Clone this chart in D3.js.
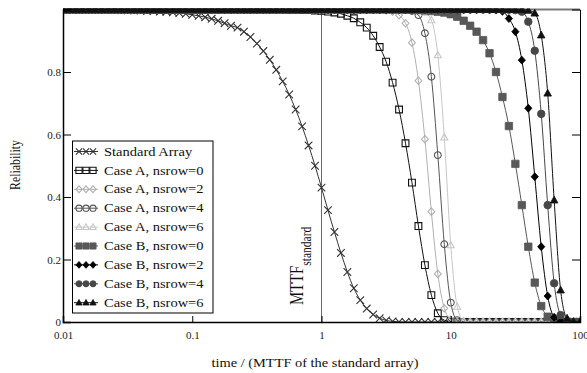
<!DOCTYPE html>
<html><head><meta charset="utf-8">
<script src="https://cdn.jsdelivr.net/npm/d3@7"></script>
<style>body{margin:0;background:#fff}svg{display:block}</style>
</head><body>
<svg id="c" width="587" height="373"></svg>
<script>
// ---------------- DATA ----------------
const time = [
0.01,0.01122,0.01259,0.01413,0.01585,0.01778,0.01995,0.02239,0.02512,0.02818,
0.03162,0.03548,0.03981,0.04467,0.05012,0.05623,0.0631,0.07079,0.07943,0.08913,
0.1,0.1122,0.1259,0.1413,0.1585,0.1778,0.1995,0.2239,0.2512,0.2818,
0.3162,0.3548,0.3981,0.4467,0.5012,0.5623,0.631,0.7079,0.7943,0.8913,
1,1.122,1.259,1.413,1.585,1.778,1.995,2.239,2.512,2.818,
3.162,3.548,3.981,4.467,5.012,5.623,6.31,7.079,7.943,8.913,
10,11.22,12.59,14.13,15.85,17.78,19.95,22.39,25.12,28.18,
31.62,35.48,39.81,44.67,50.12,56.23,63.1,70.79,79.43,89.13,
100];

const seriesNames = ["Standard Array","Case A, nsrow=0","Case A, nsrow=2","Case A, nsrow=4","Case A, nsrow=6",
                     "Case B, nsrow=0","Case B, nsrow=2","Case B, nsrow=4","Case B, nsrow=6"];

const standardArray = [
0.9997,0.9996,0.9995,0.9994,0.9993,0.9991,0.9989,0.9987,0.9984,0.9980,
0.9976,0.9971,0.9965,0.9957,0.9948,0.9937,0.9923,0.9907,0.9887,0.9863,
0.9833,0.9797,0.9754,0.9702,0.9638,0.9562,0.9480,0.942,0.929,0.912,
0.891,0.867,0.839,0.807,0.770,0.728,0.680,0.626,0.565,0.500,
0.430,0.358,0.288,0.221,0.160,0.108,0.070,0.043,0.024,0.012,
0.005,0.002,0.0005,0,0,0,0,0,0,0,
0,0,0,0,0,0,0,0,0,0,
0,0,0,0,0,0,0,0,0,0,
0];
const caseA0 = [
1,1,1,1,1,1,1,1,1,1,
1,1,1,1,1,1,1,1,1,1,
1,1,1,1,1,1,1,1,1,1,
1,1,0.9998,0.9997,0.9995,0.9993,0.999,0.9985,0.998,0.997,
0.9955,0.9935,0.9906,0.9864,0.980,0.972,0.959,0.942,0.916,0.880,
0.833,0.766,0.680,0.572,0.446,0.307,0.182,0.086,0.028,0.006,
0.001,0,0,0,0,0,0,0,0,0,
0,0,0,0,0,0,0,0,0,0,
0];
const caseA2 = [
1,1,1,1,1,1,1,1,1,1,
1,1,1,1,1,1,1,1,1,1,
1,1,1,1,1,1,1,1,1,1,
1,1,1,1,1,1,1,1,1,1,
1,1,1,1,1,1,1,1,1,0.999,
0.997,0.993,0.982,0.956,0.894,0.772,0.585,0.353,0.154,0.044,
0.008,0.001,0,0,0,0,0,0,0,0,
0,0,0,0,0,0,0,0,0,0,
0];
const caseA4 = [
1,1,1,1,1,1,1,1,1,1,
1,1,1,1,1,1,1,1,1,1,
1,1,1,1,1,1,1,1,1,1,
1,1,1,1,1,1,1,1,1,1,
1,1,1,1,1,1,1,1,1,1,
1,1,1,0.998,0.995,0.982,0.924,0.785,0.534,0.249,
0.062,0.006,0,0,0,0,0,0,0,0,
0,0,0,0,0,0,0,0,0,0,
0];
const caseA6 = [
1,1,1,1,1,1,1,1,1,1,
1,1,1,1,1,1,1,1,1,1,
1,1,1,1,1,1,1,1,1,1,
1,1,1,1,1,1,1,1,1,1,
1,1,1,1,1,1,1,1,1,1,
1,1,1,1,1,0.997,0.99,0.966,0.854,0.591,
0.246,0.049,0.003,0,0,0,0,0,0,0,
0,0,0,0,0,0,0,0,0,0,
0];
const caseB0 = [
1,1,1,1,1,1,1,1,1,1,
1,1,1,1,1,1,1,1,1,1,
1,1,1,1,1,1,1,1,1,1,
1,1,1,1,1,1,1,1,1,1,
1,1,1,1,1,1,1,1,1,1,
1,1,1,1,0.999,0.998,0.997,0.995,0.993,0.99,
0.985,0.977,0.964,0.948,0.929,0.902,0.86,0.80,0.72,0.627,
0.506,0.374,0.241,0.126,0.051,0.017,0.004,0.001,0,0,
0];
const caseB2 = [
1,1,1,1,1,1,1,1,1,1,
1,1,1,1,1,1,1,1,1,1,
1,1,1,1,1,1,1,1,1,1,
1,1,1,1,1,1,1,1,1,1,
1,1,1,1,1,1,1,1,1,1,
1,1,1,1,1,1,1,1,1,1,
1,1,1,1,1,1,0.999,0.998,0.994,0.971,
0.929,0.838,0.684,0.465,0.241,0.083,0.015,0.002,0,0,
0];
const caseB4 = [
1,1,1,1,1,1,1,1,1,1,
1,1,1,1,1,1,1,1,1,1,
1,1,1,1,1,1,1,1,1,1,
1,1,1,1,1,1,1,1,1,1,
1,1,1,1,1,1,1,1,1,1,
1,1,1,1,1,1,1,1,1,1,
1,1,1,1,1,1,1,1,1,0.999,
0.998,0.993,0.961,0.868,0.666,0.374,0.124,0.022,0.002,0,
0];
const caseB6 = [
1,1,1,1,1,1,1,1,1,1,
1,1,1,1,1,1,1,1,1,1,
1,1,1,1,1,1,1,1,1,1,
1,1,1,1,1,1,1,1,1,1,
1,1,1,1,1,1,1,1,1,1,
1,1,1,1,1,1,1,1,1,1,
1,1,1,1,1,1,1,1,1,1,
1,0.999,0.997,0.988,0.918,0.732,0.39,0.102,0.012,0.001,
0];

const xTicks = [0.01, 0.1, 1, 10, 100];
const xTickLabels = ["0.01", "0.1", "1", "10", "100"];
const yTicks = [0, 0.2, 0.4, 0.6, 0.8];
const yTickLabels = ["0", "0.2", "0.4", "0.6", "0.8"];
const mttfStandard = 1;

// ---------------- STYLE ----------------
const seriesValues = [standardArray, caseA0, caseA2, caseA4, caseA6, caseB0, caseB2, caseB4, caseB6];
const styles = [
  {shape:"x",        color:"#333333", fill:"none", size:3.8},
  {shape:"square",   color:"#111111", fill:"none", size:3.4},
  {shape:"diamond",  color:"#b0b0b0", fill:"none", size:3.4},
  {shape:"circle",   color:"#555555", fill:"none", size:3.4},
  {shape:"triangle", color:"#c6c6c6", fill:"none", size:3.5},
  {shape:"square",   color:"#585858", fill:"#585858", size:3.7},
  {shape:"diamond",  color:"#000000", fill:"#000000", size:3.6},
  {shape:"circle",   color:"#474747", fill:"#474747", size:3.8},
  {shape:"triangle", color:"#111111", fill:"#111111", size:3.8}
];
const series = seriesNames.map((name, i) => ({
  name, style: styles[i],
  points: time.map((t, j) => ({t, r: seriesValues[i][j]}))
}));

const FONT = "'Liberation Serif','Times New Roman',serif";
const SQ = 0.82; // vertical squash of text seen in reference
const L = 63, R = 580, T = 9.5, B = 322;

const svg = d3.select("#c");
const x = d3.scaleLog().domain([0.01, 100]).range([L, R]);
const y = d3.scaleLinear().domain([0, 1]).range([B, T]);

function markerPath(shape, s) {
  switch (shape) {
    case "square":   return `M${-s},${-s}H${s}V${s}H${-s}Z`;
    case "diamond":  return `M0,${-s*1.1}L${s},0L0,${s*1.1}L${-s},0Z`;
    case "circle":   return d3.symbol(d3.symbolCircle, Math.PI*s*s)();
    case "triangle": return `M0,${-s*1.05}L${s},${s*0.75}L${-s},${s*0.75}Z`;
    case "x":        return `M${-s},${-s}L${s},${s}M${-s},${s}L${s},${-s}`;
  }
}

// clip
svg.append("defs").append("clipPath").attr("id","plotclip")
  .append("rect").attr("x", L).attr("y", T - 1).attr("width", R-L).attr("height", B-T+1);

// MTTF vertical line
svg.append("line")
  .attr("x1", x(mttfStandard)).attr("x2", x(mttfStandard))
  .attr("y1", T).attr("y2", B)
  .attr("stroke", "#6a6a6a").attr("stroke-width", 1);

// frame top line (under the curves)
svg.append("line").attr("x1", L).attr("x2", R).attr("y1", T).attr("y2", T)
  .attr("stroke", "#7a7a7a").attr("stroke-width", 2);

// curves
const plot = svg.append("g").attr("clip-path", "url(#plotclip)");
const line = d3.line().x(d => x(d.t)).y(d => y(d.r)).curve(d3.curveMonotoneX);
series.forEach(s => {
  const g = plot.append("g");
  g.append("path").attr("d", line(s.points))
    .attr("fill", "none").attr("stroke", s.style.color).attr("stroke-width", 1);
  g.selectAll("path.m").data(s.points).join("path").attr("class","m")
    .attr("transform", d => `translate(${x(d.t)},${y(d.r)})`)
    .attr("d", markerPath(s.style.shape, s.style.size))
    .attr("fill", s.style.fill === "none" ? "none" : s.style.fill)
    .attr("stroke", s.style.color)
    .attr("stroke-width", s.style.fill === "none" ? 1.1 : 0.8);
});

// axes
const yAxis = d3.axisLeft(y).tickValues(yTicks).tickSize(-8).tickPadding(2)
  .tickFormat((d, i) => yTickLabels[i]);
const gy = svg.append("g").attr("transform", `translate(${L},0)`).call(yAxis);
gy.select(".domain").attr("stroke", "#000").attr("stroke-width", 1.5);

const yAxisR = d3.axisRight(y).tickValues(yTicks.filter(v => v > 0)).tickSize(-8).tickFormat("");
const gyr = svg.append("g").attr("transform", `translate(${R},0)`).call(yAxisR);
gyr.select(".domain").attr("stroke", "#000").attr("stroke-width", 1);

const xAxis = d3.axisBottom(x).tickValues(xTicks).tickSize(-6).tickPadding(9)
  .tickFormat((d, i) => xTickLabels[i]);
const gx = svg.append("g").attr("transform", `translate(0,${B})`).call(xAxis);
gx.select(".domain").attr("stroke", "#000").attr("stroke-width", 1.5);

[gy, gx, gyr].forEach(g => {
  g.selectAll("text").attr("font-family", FONT).attr("font-size", 11).attr("fill", "#222");
  g.selectAll(".tick line").attr("stroke", "#000");
  g.attr("font-family", FONT);
});

// axis titles
svg.append("text")
  .attr("transform", `translate(315,367) scale(1,${SQ})`)
  .attr("text-anchor", "middle").attr("font-family", FONT).attr("font-size", 14.4)
  .attr("fill", "#111").text("time / (MTTF of the standard array)");
svg.append("text")
  .attr("transform", `translate(20,165) scale(1,${SQ}) rotate(-90)`)
  .attr("text-anchor", "middle").attr("font-family", FONT).attr("font-size", 14.4)
  .attr("fill", "#111").text("Reliability");

// MTTF_standard annotation
const mt = svg.append("text")
  .attr("transform", `translate(303,305) scale(1,${SQ}) rotate(-90)`)
  .attr("font-family", FONT).attr("fill", "#111");
mt.append("tspan").attr("font-size", 18).text("MTTF");
mt.append("tspan").attr("font-size", 14).attr("dy", 8).text("standard");

// legend
const lg = svg.append("g");
lg.append("rect").attr("x", 72.5).attr("y", 141).attr("width", 140.5).attr("height", 172)
  .attr("fill", "#fff").attr("stroke", "#000").attr("stroke-width", 1);
series.forEach((s, i) => {
  const cy = 151.5 + i * 18.9;
  const row = lg.append("g");
  row.append("line").attr("x1", 74).attr("x2", 98).attr("y1", cy).attr("y2", cy)
    .attr("stroke", s.style.color).attr("stroke-width", 1);
  [79, 86, 93].forEach(cx => {
    row.append("path").attr("transform", `translate(${cx},${cy})`)
      .attr("d", markerPath(s.style.shape, 3.1))
      .attr("fill", s.style.fill === "none" ? "#fff" : s.style.fill)
      .attr("fill-opacity", s.style.fill === "none" ? 0 : 1)
      .attr("stroke", s.style.color).attr("stroke-width", s.style.fill === "none" ? 1.1 : 0.8);
  });
  row.append("text")
    .attr("transform", `translate(104,${cy}) scale(1,${SQ})`)
    .attr("dy", "0.35em").attr("font-family", FONT).attr("font-size", 14.5)
    .attr("fill", "#111").text(s.name);
});
</script>
</body></html>
